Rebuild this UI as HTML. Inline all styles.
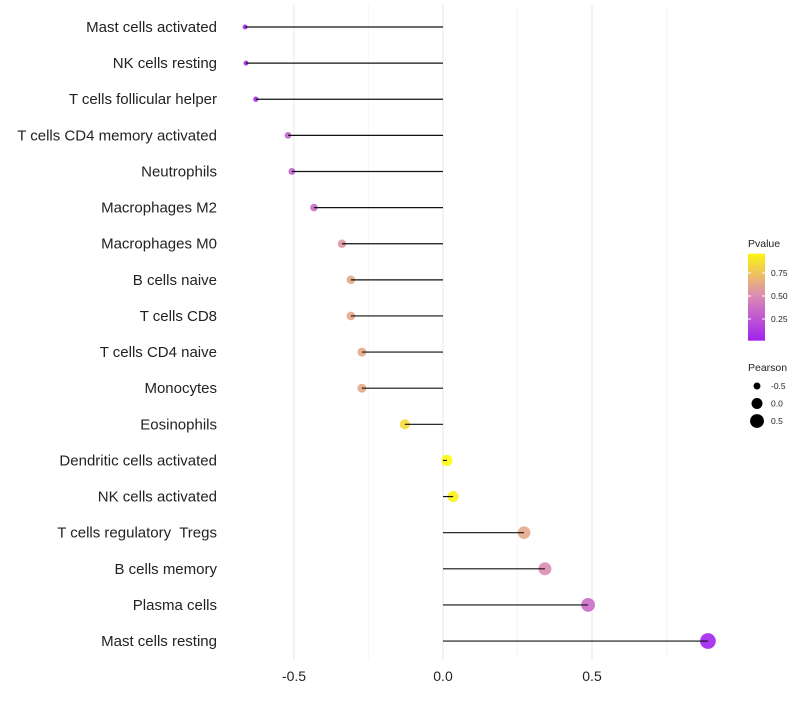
<!DOCTYPE html>
<html><head><meta charset="utf-8"><style>
body{margin:0;background:#fff;font-family:"Liberation Sans",sans-serif}
text{white-space:pre}
</style></head><body>
<svg id="c" width="800" height="700" font-family="Liberation Sans, sans-serif"></svg>
<script>
const categories=["Mast cells activated","NK cells resting","T cells follicular helper","T cells CD4 memory activated","Neutrophils","Macrophages M2","Macrophages M0","B cells naive","T cells CD8","T cells CD4 naive","Monocytes","Eosinophils","Dendritic cells activated","NK cells activated","T cells regulatory  Tregs","B cells memory","Plasma cells","Mast cells resting"];
const pearson=[-0.664,-0.661,-0.628,-0.52,-0.507,-0.433,-0.339,-0.309,-0.309,-0.272,-0.272,-0.128,0.013,0.034,0.272,0.342,0.487,0.889];
const pvalue=[0.04,0.05,0.08,0.3,0.3,0.35,0.55,0.62,0.62,0.63,0.63,0.85,0.97,0.93,0.62,0.5,0.35,0.02];
const xTicks=[-0.5,0,0.5];
const xTickLabels=["-0.5","0.0","0.5"];
const pTicks=[0.25,0.5,0.75];
const pTickLabels=["0.25","0.50","0.75"];
const sizeVals=[-0.5,0,0.5];
const sizeLabels=["-0.5","0.0","0.5"];

const svg=document.getElementById('c');const NS='http://www.w3.org/2000/svg';
function mk(t,a,p){const e=document.createElementNS(NS,t);for(const k in a)e.setAttribute(k,a[k]);(p||svg).appendChild(e);return e;}
const X=v=>443+v*298;
const Y=i=>27+i*36.12;
const R=v=>Math.sqrt(Math.max(4,30+36*v));
function lerp(a,b,t){return a.map((x,i)=>Math.round(x+(b[i]-x)*t));}
function col(p){const s=[[160,32,240],[220,140,180],[255,255,0]];let c=p<0.5?lerp(s[0],s[1],p/0.5):lerp(s[1],s[2],(p-0.5)/0.5);return `rgb(${c})`;}
[-0.25,0.25,0.75].forEach(v=>{const g=mk('line',{x1:X(v),x2:X(v),y1:5,y2:660,stroke:'#f2f2f2','stroke-width':0.7});
});
xTicks.forEach((v,i)=>{const g=mk('line',{x1:X(v),x2:X(v),y1:5,y2:660,stroke:'#ebebeb','stroke-width':1.2});

const t=mk('text',{x:X(v),y:681,'text-anchor':'middle','font-size':14,fill:'#222'});t.textContent=xTickLabels[i];
});
categories.forEach((c,i)=>{const y=Y(i);
const t=mk('text',{x:217,y:y+5,'text-anchor':'end','font-size':15,fill:'#222'});t.textContent=c;

const d=mk('circle',{cx:X(pearson[i]),cy:y,r:R(pearson[i]),fill:col(pvalue[i]),'fill-opacity':0.9});

const l=mk('line',{x1:X(0),x2:X(pearson[i]),y1:y,y2:y,stroke:'#111','stroke-width':1.2});
});
const lg=mk('text',{x:748,y:247,'font-size':10.5,fill:'#222'});lg.textContent='Pvalue';

const PY=p=>342-p*92;
for(let k=0;k<40;k++){const p0=0.02+k*(0.94/40);const r=mk('rect',{x:748,y:PY(p0+0.94/40),width:17,height:92*0.94/40+0.5,fill:col(p0)});
}
pTicks.forEach((p,i)=>{mk('line',{x1:748,x2:751,y1:PY(p),y2:PY(p),stroke:'#fff'});mk('line',{x1:762,x2:765,y1:PY(p),y2:PY(p),stroke:'#fff'});
const t=mk('text',{x:771,y:PY(p)+3,'font-size':8.5,fill:'#222'});t.textContent=pTickLabels[i];
});
const sg=mk('text',{x:748,y:371,'font-size':10.5,fill:'#222'});sg.textContent='Pearson';

sizeVals.forEach((v,i)=>{const y=386+i*17.5;const c=mk('circle',{cx:757,cy:y,r:R(v),fill:'#000'});

const t=mk('text',{x:771,y:y+3,'font-size':8.5,fill:'#222'});t.textContent=sizeLabels[i];
});
</script>
</body></html>
